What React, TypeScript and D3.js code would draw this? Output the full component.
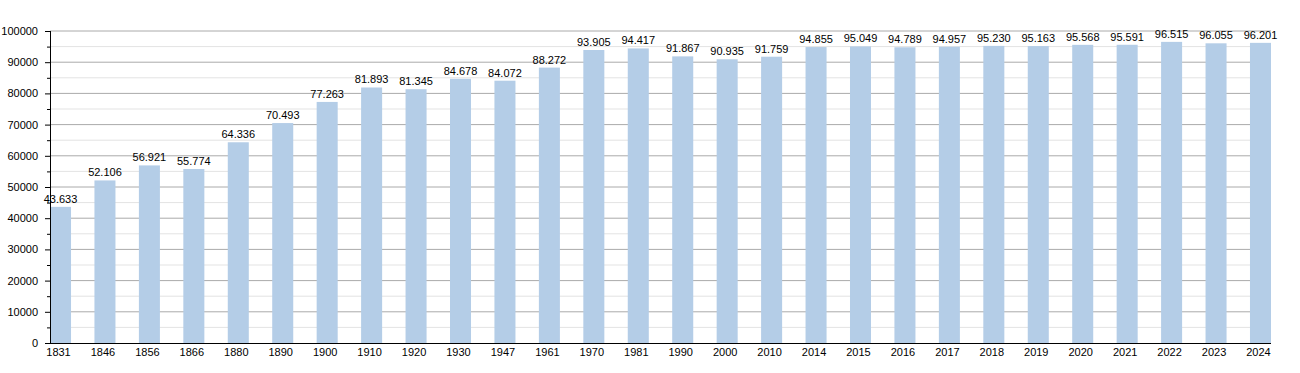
import React, { useEffect, useRef } from 'react';
import * as d3 from 'd3';

const years = ['1831', '1846', '1856', '1866', '1880', '1890', '1900', '1910', '1920', '1930', '1947', '1961', '1970', '1981', '1990', '2000', '2010', '2014', '2015', '2016', '2017', '2018', '2019', '2020', '2021', '2022', '2023', '2024'];
const population = [43633, 52106, 56921, 55774, 64336, 70493, 77263, 81893, 81345, 84678, 84072, 88272, 93905, 94417, 91867, 90935, 91759, 94855, 95049, 94789, 94957, 95230, 95163, 95568, 95591, 96515, 96055, 96201];
const majorTicks = [0, 10000, 20000, 30000, 40000, 50000, 60000, 70000, 80000, 90000, 100000];
const minorTicks = [5000, 15000, 25000, 35000, 45000, 55000, 65000, 75000, 85000, 95000];

const W = 1300;
const H = 373;
const left = 50;
const right = 1271;
const top = 31;
const bottom = 343;

const fmt = (v: number) => d3.format(',')(v).replace(/,/g, '.');

const App = () => {
  const ref = useRef<SVGSVGElement>(null);

  useEffect(() => {
    const svg = d3.select(ref.current);
    svg.selectAll('*').remove();

    const x = d3.scaleBand<string>()
      .domain(years)
      .range([left, right])
      .paddingInner(0.527)
      .paddingOuter(0);

    const y = d3.scaleLinear().domain([0, 100000]).range([bottom, top]);

    // grid
    svg.append('g')
      .selectAll('line')
      .data(minorTicks)
      .join('line')
      .attr('x1', left).attr('x2', right)
      .attr('y1', d => y(d)).attr('y2', d => y(d))
      .attr('stroke', '#e3e3e3').attr('stroke-width', 1);

    svg.append('g')
      .selectAll('line')
      .data(majorTicks.filter(d => d > 0))
      .join('line')
      .attr('x1', left).attr('x2', right)
      .attr('y1', d => y(d)).attr('y2', d => y(d))
      .attr('stroke', '#aaaaaa').attr('stroke-width', 1);

    // bars
    svg.append('g')
      .selectAll('rect')
      .data(population)
      .join('rect')
      .attr('x', (d, i) => x(years[i])!)
      .attr('y', d => y(d))
      .attr('width', x.bandwidth())
      .attr('height', d => bottom - y(d))
      .attr('fill', '#b4cde7');

    // value labels
    svg.append('g')
      .selectAll('text')
      .data(population)
      .join('text')
      .attr('x', (d, i) => x(years[i])! + x.bandwidth() / 2)
      .attr('y', d => y(d) - 4)
      .attr('text-anchor', 'middle')
      .attr('font-family', 'Liberation Sans, Arial, sans-serif')
      .attr('font-size', 11)
      .attr('fill', '#000')
      .text(d => fmt(d));

    // y axis
    const ya = svg.append('g');
    ya.append('line')
      .attr('x1', left + 0.5).attr('x2', left + 0.5)
      .attr('y1', top).attr('y2', bottom)
      .attr('stroke', '#000');
    ya.selectAll('line.maj')
      .data(majorTicks)
      .join('line')
      .attr('class', 'maj')
      .attr('x1', left - 5).attr('x2', left)
      .attr('y1', d => y(d) + 0.5).attr('y2', d => y(d) + 0.5)
      .attr('stroke', '#000');
    ya.selectAll('line.min')
      .data(minorTicks)
      .join('line')
      .attr('class', 'min')
      .attr('x1', left - 3).attr('x2', left)
      .attr('y1', d => y(d) + 0.5).attr('y2', d => y(d) + 0.5)
      .attr('stroke', '#000');
    ya.selectAll('text')
      .data(majorTicks)
      .join('text')
      .attr('x', left - 12)
      .attr('y', d => y(d) + 4)
      .attr('text-anchor', 'end')
      .attr('font-family', 'Liberation Sans, Arial, sans-serif')
      .attr('font-size', 11)
      .text(d => String(d));

    // x axis
    const xa = svg.append('g');
    xa.append('line')
      .attr('x1', left - 5).attr('x2', right)
      .attr('y1', bottom + 0.5).attr('y2', bottom + 0.5)
      .attr('stroke', '#000');
    xa.selectAll('text')
      .data(years)
      .join('text')
      .attr('x', d => x(d)! + x.bandwidth() / 2 - 2)
      .attr('y', bottom + 13)
      .attr('text-anchor', 'middle')
      .attr('font-family', 'Liberation Sans, Arial, sans-serif')
      .attr('font-size', 11)
      .text(d => d);
  }, []);

  return (
    <svg ref={ref} width={W} height={H} style={{ position: 'absolute', left: 0, top: 0, background: '#fff' }} />
  );
};

export default App;
